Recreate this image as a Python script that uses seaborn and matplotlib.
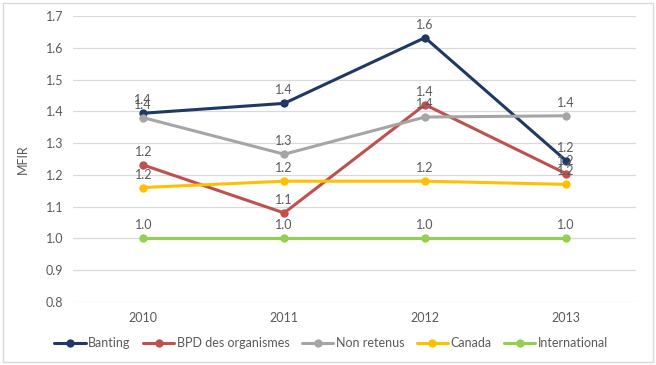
import matplotlib
matplotlib.use("Agg")
import matplotlib.pyplot as plt
import pandas as pd
import seaborn as sns

# --- data ---
years = ["2010", "2011", "2012", "2013"]
banting = [1.394, 1.425, 1.632, 1.245]
bpd = [1.231, 1.080, 1.421, 1.204]
non_retenus = [1.380, 1.265, 1.382, 1.386]
canada = [1.160, 1.180, 1.180, 1.170]
international = [1.0, 1.0, 1.0, 1.0]

series_names = ["Banting", "BPD des organismes", "Non retenus", "Canada", "International"]
series_values = [banting, bpd, non_retenus, canada, international]
colors = ["#1F3864", "#C0504D", "#A5A5A5", "#FFC000", "#92D050"]

rows = []
for name, vals in zip(series_names, series_values):
    for yr, v in zip(years, vals):
        rows.append({"Année": yr, "MFIR": v, "Série": name})
df = pd.DataFrame(rows)

sns.set_theme(style="white")
plt.rcParams["font.family"] = ["Lato", "DejaVu Sans"]

fig = plt.figure(figsize=(6.56, 3.65), dpi=100)
ax = fig.add_axes([0.111, 0.173, 0.859, 0.783])

sns.lineplot(data=df, x="Année", y="MFIR", hue="Série", hue_order=series_names,
             palette=colors, marker="o", markersize=6, markeredgewidth=0,
             linewidth=2.2, ax=ax, sort=False)

# value labels above each point
for name, vals in zip(series_names, series_values):
    for i, v in enumerate(vals):
        ax.annotate(f"{v:.1f}", (i, v), xytext=(0, 5), textcoords="offset points",
                    ha="center", va="bottom", fontsize=9, color="#595959")

ax.set_xlim(-0.5, 3.5)
ax.set_ylim(0.8, 1.7)
ax.set_yticks([0.8, 0.9, 1.0, 1.1, 1.2, 1.3, 1.4, 1.5, 1.6, 1.7])
ax.set_yticklabels([f"{t:.1f}" for t in ax.get_yticks()])
ax.yaxis.grid(True, color="#D9D9D9", linewidth=0.9)
ax.xaxis.grid(False)
for s in ax.spines.values():
    s.set_visible(False)
ax.tick_params(axis="both", length=0, labelsize=9, labelcolor="#595959", pad=7)
ax.set_xlabel("")
ax.set_ylabel("MFIR", fontsize=9, color="#595959", labelpad=12)

handles, labels = ax.get_legend_handles_labels()
ax.legend_.remove()
fig.legend(handles, labels, loc="center", bbox_to_anchor=(0.505, 0.06), ncol=5,
           frameon=False, fontsize=9, labelcolor="#595959", handlelength=2.5,
           handletextpad=0.2, columnspacing=1.0)

# outer chart border
fig.patches.append(plt.Rectangle((0.005, 0.008), 0.99, 0.984, transform=fig.transFigure,
                                 fill=False, edgecolor="#D9D9D9", linewidth=1))

fig.savefig("out.png", dpi=100)
